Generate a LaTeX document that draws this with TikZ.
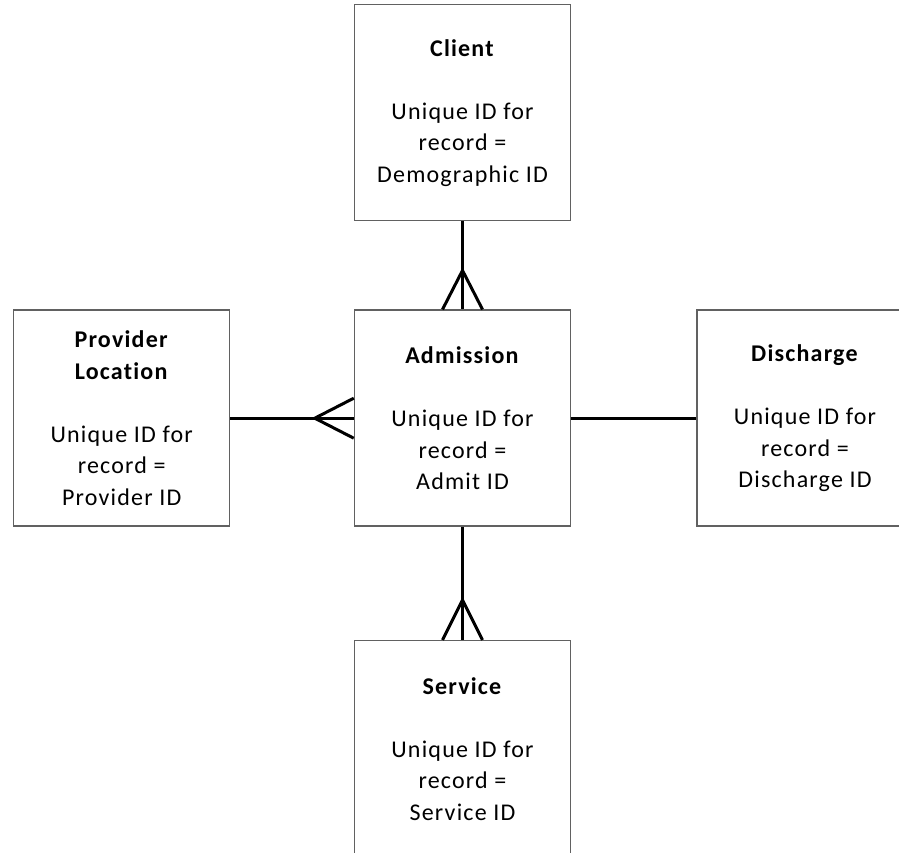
\documentclass[tikz,border=0pt]{standalone}
\usepackage{fontspec}
\setmainfont{Carlito}[LetterSpace=5,Ligatures=NoCommon]
\usetikzlibrary{calc}

\tikzset{
  entity/.style={draw=black!62, line width=1.5pt, fill=white,
    minimum width=216pt, minimum height=216pt, inner sep=0pt,
    align=center, font=\fontsize{24}{31.5}\selectfont},
  link/.style={draw=black, line width=3pt},
}

\begin{document}
\begin{tikzpicture}[x=1pt,y=-1pt]
  \useasboundingbox (0,0) rectangle (899,853);
  \node[entity] (client) at (462.5,112.7)
    {\textbf{Client}\\[31.5pt]Unique ID for\\record =\\Demographic ID};
  \node[entity] (adm) at (462.5,418.2)
    {\textbf{Admission}\\[31.5pt]Unique ID for\\record =\\Admit ID};
  \node[entity] (prov) at (121.7,418.2)
    {\textbf{Provider}\\\textbf{Location}\\[31.5pt]Unique ID for\\record =\\Provider ID};
  \node[entity] (dis) at (805,418.2)
    {\textbf{Discharge}\\[31.5pt]Unique ID for\\record =\\Discharge ID};
  \node[entity] (serv) at (462.5,748.7)
    {\textbf{Service}\\[31.5pt]Unique ID for\\record =\\Service ID};
  \begin{scope}[link]
    \draw (client) -- (adm);
    \draw (prov) -- (adm);
    \draw (adm) -- (dis);
    \draw (adm) -- (serv);
    % crow's feet on the many side
    \draw ($(adm.north)+(-20,0)$) -- ($(adm.north)+(0,-39)$) -- ($(adm.north)+(20,0)$);
    \draw ($(adm.west)+(0,-20)$) -- ($(adm.west)+(-39,0)$) -- ($(adm.west)+(0,20)$);
    \draw ($(serv.north)+(-20,0)$) -- ($(serv.north)+(0,-40)$) -- ($(serv.north)+(20,0)$);
  \end{scope}
\end{tikzpicture}
\end{document}
